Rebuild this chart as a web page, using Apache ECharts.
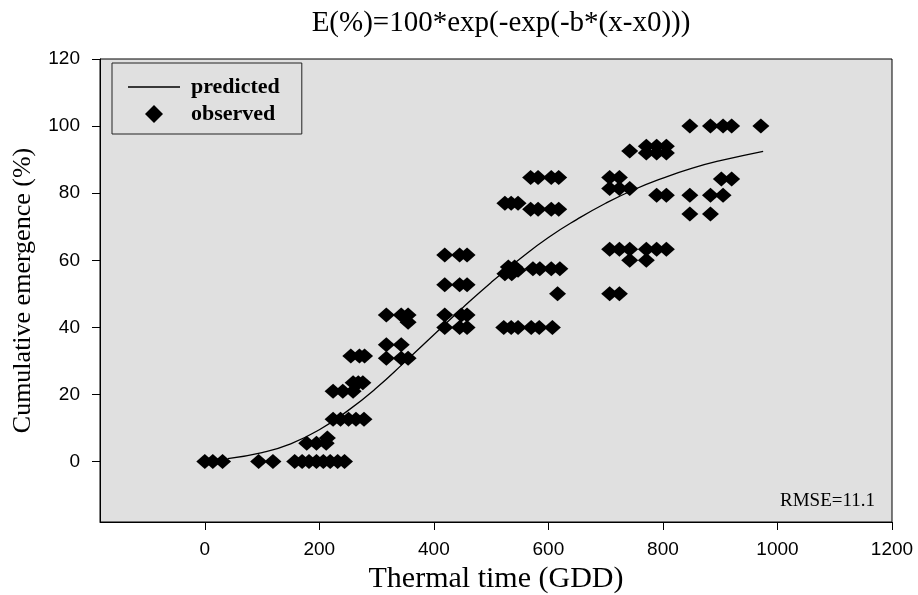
<!DOCTYPE html>
<html><head><meta charset="utf-8">
<script src="https://cdn.jsdelivr.net/npm/echarts@6/dist/echarts.min.js"></script>
<style>html,body{margin:0;padding:0;background:#fff}#c{width:918px;height:595px}</style>
</head><body><div id="c"></div>
<script>
const titleText = 'E(%)=100*exp(-exp(-b*(x-x0)))';
const xTicks = [0, 200, 400, 600, 800, 1000, 1200];
const yTicks = [0, 20, 40, 60, 80, 100, 120];
const curveX = [40, 100, 150, 200, 250, 300, 350, 400, 450, 500, 550, 600, 650, 700, 750, 800, 850, 900, 975];
const curveY = [0.9, 2.7, 5.3, 9.5, 15.2, 22.0, 29.8, 37.8, 45.8, 53.4, 60.4, 66.8, 72.2, 77.0, 81.1, 84.5, 87.4, 89.7, 92.5];
const observed = [
  [0,0],[14,0],[31,0],[94,0],[119,0],[157,0],[170,0],[182,0],[195,0],[207,0],[219,0],[232,0],[244,0],
  [178,5.5],[195,5.5],[212,5.5],[214,7],
  [224,12.6],[237,12.6],[251,12.6],[264,12.6],[278,12.6],
  [224,21],[241,21],[259,21],[259,23.5],[268,23.5],[276,23.5],
  [255,31.5],[270,31.5],[279,31.5],
  [317,43.7],[343,43.7],[355,43.7],[355,41.5],[317,34.8],[343,34.8],[317,30.8],[343,30.8],[355,30.8],
  [419,61.6],[445,61.6],[458,61.6],[419,52.7],[445,52.7],[458,52.7],
  [419,43.7],[448,43.7],[458,43.7],[419,40],[445,40],[458,40],
  [524,56],[530,58],[536,56],[541,58],[547,57],[573,57.5],[585,57.5],[605,57.5],[620,57.5],
  [616,50],
  [522,40],[535,40],[547,40],[570,40],[584,40],[607,40],
  [569,84.7],[582,84.7],[605,84.7],[618,84.7],
  [524,77],[535,77],[547,77],
  [569,75.2],[582,75.2],[605,75.2],[618,75.2],
  [707,63.3],[724,63.3],[742,63.3],[771,63.3],[789,63.3],[806,63.3],
  [742,60],[771,60],
  [707,50],[724,50],
  [707,84.7],[724,84.7],[707,81.4],[724,81.4],[742,81.4],
  [742,92.6],[771,94],[789,94],[806,94],[771,92],[789,92],[806,92],
  [847,100],[883,100],[905,100],[920,100],[971,100],
  [902,84.2],[920,84.2],
  [789,79.4],[806,79.4],[847,79.4],[883,79.4],[905,79.4],
  [847,73.8],[883,73.8]
];
const serif = '"Liberation Serif", "Times New Roman", serif';
const sans = '"Liberation Sans", Arial, sans-serif';
const chart = echarts.init(document.getElementById('c'), null, {renderer: 'canvas'});
chart.setOption({
  animation: false,
  backgroundColor: '#fff',
  title: {text: titleText, left: 496, top: 4, textAlign: 'center',
    textStyle: {fontFamily: serif, fontWeight: 'normal', fontSize: 29, color: '#000'}},
  grid: {left: 100, top: 59, right: 26, bottom: 73, show: true, backgroundColor: '#e0e0e0',
    borderColor: '#000', borderWidth: 1, containLabel: false, outerBoundsMode: 'none'},
  legend: {left: 112, top: 63, orient: 'vertical', padding: [13, 22, 9, 16], itemGap: 5,
    itemWidth: 52, itemHeight: 18, symbolKeepAspect: true,
    borderColor: '#222', borderWidth: 1, backgroundColor: '#e0e0e0',
    selectedMode: false,
    data: [{name: 'predicted', icon: 'path://M0,0L52,0L52,1.3L0,1.3Z'},
           {name: 'observed', icon: 'path://M9,0L18,9L9,18L0,9Z'}],
    textStyle: {fontFamily: serif, fontWeight: 'bold', fontSize: 22, lineHeight: 22, color: '#000', padding: [0, 0, 0, 6]}},
  xAxis: {type: 'value', min: -183, max: 1200,
    name: 'Thermal time (GDD)', nameLocation: 'middle', nameGap: 41,
    nameTextStyle: {fontFamily: serif, fontSize: 30, color: '#000'},
    axisLine: {show: true, onZero: false, lineStyle: {color: '#000'}},
    axisTick: {show: true, length: 8, customValues: xTicks, lineStyle: {color: '#000'}},
    axisLabel: {customValues: xTicks, margin: 18, fontFamily: sans, fontSize: 19, color: '#000',
      formatter: v => String(v)},
    splitLine: {show: false}},
  yAxis: {type: 'value', min: -18, max: 120,
    name: 'Cumulative emergence (%)', nameLocation: 'middle', nameGap: 64,
    nameTextStyle: {fontFamily: serif, fontSize: 26, color: '#000'},
    axisLine: {show: true, onZero: false, lineStyle: {color: '#000'}},
    axisTick: {show: true, length: 8, customValues: yTicks, lineStyle: {color: '#000'}},
    axisLabel: {customValues: yTicks, margin: 20, fontFamily: sans, fontSize: 19, color: '#000',
      formatter: v => String(v)},
    splitLine: {show: false}},
  series: [
    {name: 'predicted', type: 'line', data: curveX.map((x, i) => [x, curveY[i]]), smooth: true,
      symbol: 'none', lineStyle: {color: '#000', width: 1.3}, itemStyle: {color: '#000'}, z: 3},
    {name: 'observed', type: 'scatter', data: observed, symbol: 'diamond', symbolSize: [17, 15],
      itemStyle: {color: '#000', opacity: 1}, z: 2}
  ],
  graphic: [{type: 'text', right: 43, top: 492,
    style: {text: 'RMSE=11.1', font: '19px "Liberation Serif"', fill: '#000'}}]
});
</script></body></html>
